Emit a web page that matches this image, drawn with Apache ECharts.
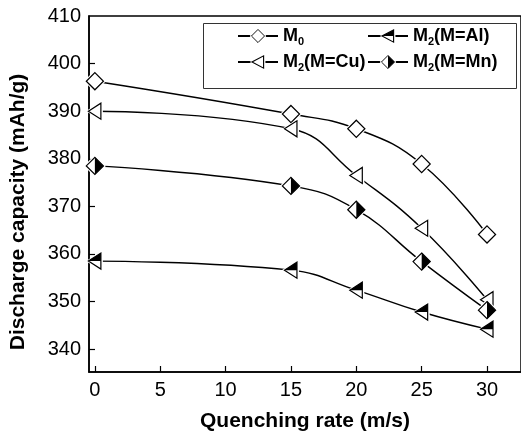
<!DOCTYPE html>
<html>
<head>
<meta charset="UTF-8" />
<title>Discharge capacity vs quenching rate</title>
<style type="text/css">
body,html{margin:0;padding:0;border:0;width:100%;height:100%;overflow:hidden;background:#fff;}
</style>
<script src="https://cdn.jsdelivr.net/npm/echarts@6/dist/echarts.min.js"></script>
<script type="text/javascript">
var rates = [0, 15, 20, 25, 30];
var capM0 = [396.3, 389.4, 386.3, 378.9, 364.1];
var capAl = [358.5, 356.6, 352.4, 347.8, 344.2];
var capCu = [390.0, 386.3, 376.5, 365.4, 350.4];
var capMn = [378.5, 374.3, 369.3, 358.4, 348.2];
var xTicks = [0, 5, 10, 15, 20, 25, 30];
var yTicks = [340, 350, 360, 370, 380, 390, 400, 410];

var FONT = '"Liberation Sans", Arial, sans-serif';

function svgIcon(body, w, h)
{
	var svg = '<svg xmlns="http://www.w3.org/2000/svg" width="' + w + '" height="' + h +
		'" viewBox="0 0 ' + w + ' ' + h + '">' + body + '</svg>';
	return 'image://data:image/svg+xml;charset=utf-8,' + encodeURIComponent(svg);
}

// diamond 20x20, triangle 18x22 (white halo keeps the gap between line and marker)
var diamondOpen = svgIcon(
	'<polygon points="10,0 20,10 10,20 0,10" fill="#fff"/>' +
	'<polygon points="10,2.2 17.8,10 10,17.8 2.2,10" fill="#fff" stroke="#000" stroke-width="1.1"/>', 20, 20);
var diamondHalf = svgIcon(
	'<polygon points="10,0 20,10 10,20 0,10" fill="#fff"/>' +
	'<polygon points="10,2.2 10,17.8 17.8,10" fill="#000"/>' +
	'<polygon points="10,2.2 17.8,10 10,17.8 2.2,10" fill="none" stroke="#000" stroke-width="1.1"/>', 20, 20);
var triOpen = svgIcon(
	'<polygon points="0,11 17,0.5 17,21.5" fill="#fff"/>' +
	'<polygon points="2.5,11 15,3 15,19" fill="#fff" stroke="#000" stroke-width="1.2"/>', 18, 22);
var triHalf = svgIcon(
	'<polygon points="0,11 17,0.5 17,21.5" fill="#fff"/>' +
	'<polygon points="2.5,11 15,3 15,11" fill="#000"/>' +
	'<polygon points="2.5,11 15,3 15,19" fill="none" stroke="#000" stroke-width="1.2"/>', 18, 22);

function pairs(xs, ys)
{
	var out = [];
	for (var i = 0; i < xs.length; i++) { out.push([xs[i], ys[i]]); }
	return out;
}

function makeSeries(name, values, symbol, size)
{
	return {
		name: name, type: 'line', smooth: 0.45,
		data: pairs(rates, values),
		symbol: symbol, symbolSize: size,
		lineStyle: { color: '#000', width: 1.4 },
		itemStyle: { color: '#000' },
		emphasis: { disabled: true },
		z: 3
	};
}

var legendRich = {
	m: { fontFamily: FONT, fontSize: 18, fontWeight: 'bold', color: '#000' },
	s: { fontFamily: FONT, fontSize: 11, fontWeight: 'bold', color: '#000', padding: [11, 0, 0, 0] }
};
function legendFmt(name)
{
	if (name === 'M0') { return '{m|M}{s|0}'; }
	return '{m|M}{s|2}{m|' + name.substring(2) + '}';
}

function init()
{
	var option = {
		animation: false,
		backgroundColor: '#fff',
		grid: { left: 87, top: 16, right: -3, bottom: 65, show: true, borderColor: '#000', borderWidth: 1.5 },
		xAxis: {
			type: 'value', min: -0.45, max: 32.6,
			name: 'Quenching rate (m/s)', nameLocation: 'middle', nameGap: 39,
			nameTextStyle: { fontFamily: FONT, fontSize: 21, fontWeight: 'bold', color: '#000' },
			axisLine: { onZero: false, lineStyle: { color: '#000', width: 1.5 } },
			axisTick: { inside: true, length: 6, customValues: xTicks, lineStyle: { color: '#000', width: 1.2 } },
			axisLabel: { customValues: xTicks, margin: 8, fontFamily: FONT, fontSize: 20, color: '#000' },
			splitLine: { show: false }
		},
		yAxis: {
			type: 'value', min: 335.2, max: 410,
			name: 'Discharge capacity (mAh/g)', nameLocation: 'middle', nameGap: 60,
			nameTruncate: { maxWidth: 500 },
			nameTextStyle: { fontFamily: FONT, fontSize: 21, fontWeight: 'bold', color: '#000', padding: [0, 36, 0, 0] },
			axisLine: { onZero: false, lineStyle: { color: '#000', width: 1.5 } },
			axisTick: { inside: true, length: 6, customValues: yTicks.slice(0, 7), lineStyle: { color: '#000', width: 1.2 } },
			axisLabel: { customValues: yTicks, margin: 8, fontFamily: FONT, fontSize: 20, color: '#000' },
			splitLine: { show: false }
		},
		graphic: [{
			type: 'rect', left: 203, top: 23, z: 10,
			shape: { width: 313, height: 65 },
			style: { fill: '#fff', stroke: '#333', lineWidth: 1 }
		}],
		legend: [{
			left: 232, top: 22, orient: 'vertical', itemWidth: 40, itemHeight: 21, itemGap: 6, z: 20,
			data: ['M0', 'M2(M=Cu)'], formatter: legendFmt, selectedMode: false,
			textStyle: { rich: legendRich }
		}, {
			left: 362, top: 22, orient: 'vertical', itemWidth: 40, itemHeight: 21, itemGap: 6, z: 20,
			data: ['M2(M=Al)', 'M2(M=Mn)'], formatter: legendFmt, selectedMode: false,
			textStyle: { rich: legendRich }
		}],
		series: [
			makeSeries('M0', capM0, diamondOpen, [22, 22]),
			makeSeries('M2(M=Al)', capAl, triHalf, [18, 22]),
			makeSeries('M2(M=Cu)', capCu, triOpen, [18, 22]),
			makeSeries('M2(M=Mn)', capMn, diamondHalf, [22, 22])
		]
	};
	var chart = echarts.init(document.getElementById('chartContainer'));
	chart.setOption(option);
}
window.onload = init;
</script>
</head>
<body>
<div id="chartContainer" style="width:521px;height:437px;"></div>
</body>
</html>
